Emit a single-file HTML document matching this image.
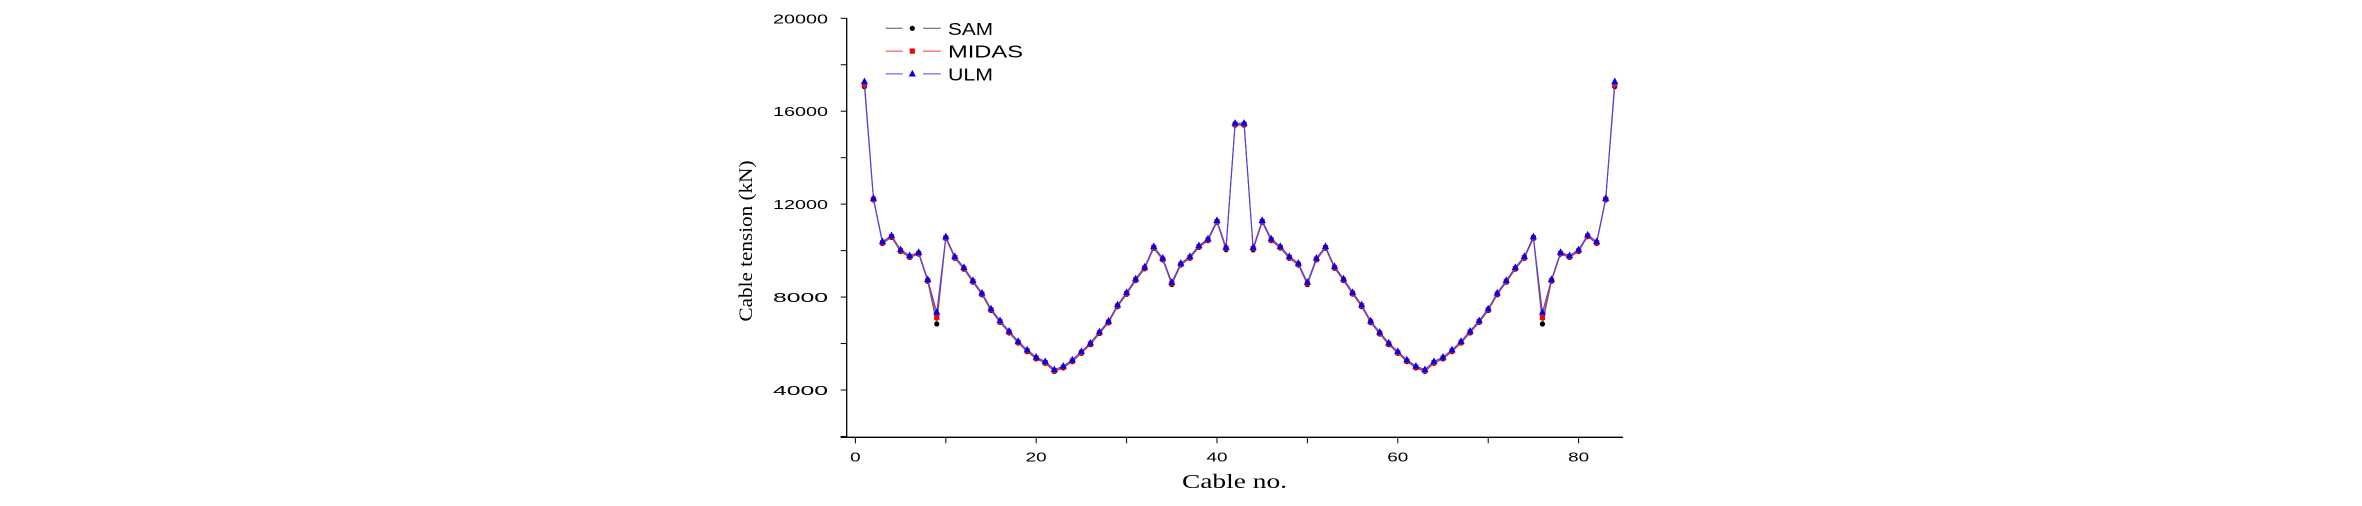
<!DOCTYPE html>
<html><head><meta charset="utf-8"><style>
html,body{margin:0;padding:0;background:#fff;}
svg{display:block;}
</style></head><body>
<svg id="chart" width="2362" height="506" xmlns="http://www.w3.org/2000/svg">
<g id="axes"></g>
<g id="series"></g>
<g id="legend"></g>
</svg>
<script>
const cables = [];
for (let i = 1; i <= 84; i++) cables.push(i);
const samValues = [17060,12180,10310,10570,9960,9710,9850,8680,6840,10520,9670,9200,8640,8100,7420,6910,6460,6020,5650,5340,5150,4800,4950,5220,5580,5950,6430,6890,7590,8120,8710,9220,10100,9600,8540,9380,9670,10140,10430,11220,10040,15400,15400,10030,11220,10430,10110,9670,9380,8540,9600,10100,9240,8710,8130,7590,6900,6410,5950,5580,5220,4950,4800,5150,5340,5650,6020,6460,6910,7420,8100,8640,9200,9670,10520,6840,8680,9850,9710,9960,10600,10310,12180,17060];
const midasValues = [17130,12210,10340,10600,9990,9740,9880,8710,7120,10550,9700,9230,8670,8130,7450,6940,6490,6050,5680,5370,5180,4830,4980,5250,5610,5980,6460,6920,7620,8150,8740,9250,10130,9630,8590,9410,9700,10170,10460,11250,10100,15440,15440,10090,11250,10460,10140,9700,9410,8590,9630,10130,9270,8740,8160,7620,6930,6440,5980,5610,5250,4980,4830,5180,5370,5680,6050,6490,6940,7450,8130,8670,9230,9700,10550,7120,8710,9880,9740,9990,10630,10340,12210,17130];
const ulmValues = [17280,12260,10390,10650,10040,9790,9930,8760,7350,10600,9750,9280,8720,8180,7500,6990,6540,6100,5730,5420,5230,4880,5030,5300,5660,6030,6510,6970,7670,8200,8790,9300,10180,9680,8640,9460,9750,10220,10510,11300,10150,15490,15490,10140,11300,10510,10190,9750,9460,8640,9680,10180,9320,8790,8210,7670,6980,6490,6030,5660,5300,5030,4880,5230,5420,5730,6100,6540,6990,7500,8180,8720,9280,9750,10600,7350,8760,9930,9790,10040,10680,10390,12260,17280];
const yTickLabels = [4000,8000,12000,16000,20000];
const xTickLabels = [0,20,40,60,80];

const NS = 'http://www.w3.org/2000/svg';
const X0 = 855.4, XS = 9.04;
const sx = v => X0 + v * XS;
const sy = v => 18.3 + (20000 - v) * (371.7 / 16000);
const axisLeft = 846.7, axisBottom = 437.3, axisRight = 1623;
function mk(tag, attrs, parent) {
  const e = document.createElementNS(NS, tag);
  for (const k in attrs) e.setAttribute(k, attrs[k]);
  parent.appendChild(e);
  return e;
}
const axes = document.getElementById('axes');
const yAxis = mk('line', {x1: axisLeft, y1: 18, x2: axisLeft, y2: axisBottom, stroke: '#000', 'stroke-width': 1.3}, axes);


const xAxis = mk('line', {x1: axisLeft - 6, y1: axisBottom, x2: axisRight, y2: axisBottom, stroke: '#000', 'stroke-width': 1.3}, axes);


for (let v = 2000; v <= 20000; v += 2000) {
  const t = mk('line', {x1: axisLeft - 6, y1: sy(v), x2: axisLeft, y2: sy(v), stroke: '#000', 'stroke-width': 1}, axes);
  
  
}
yTickLabels.forEach(v => {
  const t = mk('text', {x: 828, y: sy(v) + 5, 'text-anchor': 'end', 'font-family': 'Liberation Sans, sans-serif', 'font-size': 13, textLength: 55, lengthAdjust: 'spacingAndGlyphs'}, axes);
  t.textContent = v;
  
  
});
for (let v = 0; v <= 80; v += 10) {
  const t = mk('line', {x1: sx(v), y1: axisBottom, x2: sx(v), y2: axisBottom + 6, stroke: '#000', 'stroke-width': 1}, axes);
  
  
}
xTickLabels.forEach(v => {
  const w = String(v).length * 10.5;
  const t = mk('text', {x: sx(v) - w / 2, y: 461.5, 'font-family': 'Liberation Sans, sans-serif', 'font-size': 13, textLength: w, lengthAdjust: 'spacingAndGlyphs'}, axes);
  t.textContent = v;
  
  
});
const yTitle = mk('text', {x: 0, y: 0, 'text-anchor': 'middle', 'font-family': 'Liberation Serif, serif', 'font-size': 19, textLength: 161, lengthAdjust: 'spacingAndGlyphs', transform: 'translate(752,241) rotate(-90)'}, axes);
yTitle.textContent = 'Cable tension (kN)';


const xTitle = mk('text', {x: 1182, y: 488, 'font-family': 'Liberation Serif, serif', 'font-size': 20, textLength: 105, lengthAdjust: 'spacingAndGlyphs'}, axes);
xTitle.textContent = 'Cable no.';



function marker(kind, x, y, color, parent) {
  if (kind === 'circle') return mk('circle', {cx: x, cy: y, r: 2.6, fill: color}, parent);
  if (kind === 'square') return mk('rect', {x: x - 2.6, y: y - 2.6, width: 5.2, height: 5.2, fill: color}, parent);
  return mk('polygon', {points: `${x},${y - 4} ${x - 3.6},${y + 2.6} ${x + 3.6},${y + 2.6}`, fill: color}, parent);
}
const seriesDefs = [
  {name: 'sam', vals: samValues, line: '#555', mark: '#000', kind: 'circle', label: 'SAM'},
  {name: 'midas', vals: midasValues, line: '#ff3030', mark: '#ff0000', kind: 'square', label: 'MIDAS'},
  {name: 'ulm', vals: ulmValues, line: '#4040ff', mark: '#0000ee', kind: 'triangle', label: 'ULM'}
];
const sg = document.getElementById('series');
seriesDefs.forEach(s => {
  const g = mk('g', {}, sg);
  
  
  const pts = s.vals.map((v, i) => sx(cables[i]) + ',' + sy(v)).join(' ');
  const pl = mk('polyline', {points: pts, fill: 'none', stroke: s.line, 'stroke-width': 1}, g);
  
  
  s.vals.forEach((v, i) => {
    const m = marker(s.kind, sx(cables[i]), sy(v), s.mark, g);
    
    
  });
});
const lg = document.getElementById('legend');
seriesDefs.forEach((s, i) => {
  const y = 28.3 + i * 22.8;
  const e = mk('g', {}, lg);
  
  
  mk('line', {x1: 885.7, y1: y, x2: 902.7, y2: y, stroke: s.line, 'stroke-width': 1}, e);
  mk('line', {x1: 923, y1: y, x2: 940.7, y2: y, stroke: s.line, 'stroke-width': 1}, e);
  marker(s.kind, 912.3, y, s.mark, e);
  const t = mk('text', {x: 948, y: y + 6.5, 'font-family': 'Liberation Sans, sans-serif', 'font-size': 17.5, textLength: s.label.length * 15, lengthAdjust: 'spacingAndGlyphs'}, e);
  t.textContent = s.label;
  
  
});
</script>
</body></html>
